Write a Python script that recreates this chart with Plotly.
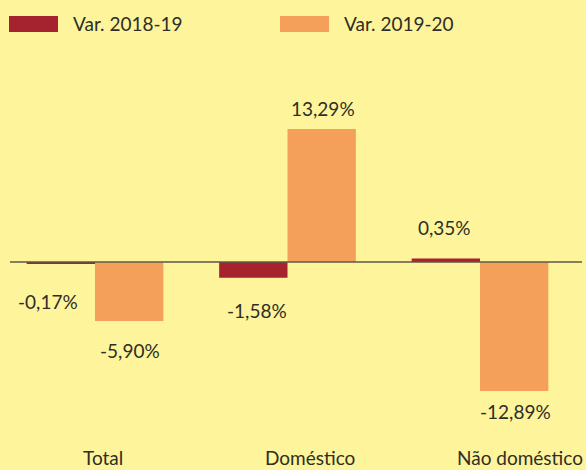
import plotly.graph_objects as go

# Consumption variation by sector (%)
categories = ["Total", "Doméstico", "Não doméstico"]
var_2018_19 = [-0.17, -1.58, 0.35]
var_2019_20 = [-5.90, 13.29, -12.89]
series_names = ["Var. 2018-19", "Var. 2019-20"]

RED = "#A4232E"
ORANGE = "#F5A05A"
BG = "#FEF49B"
TXT = "#2e2e26"
FONT = "Lato"
WEIGHT = 400

def pct(v):
    return f"{v:.2f}".replace(".", ",") + "%"

def tfont(size=19):
    return dict(family=FONT, size=size, color=TXT, weight=WEIGHT)

fig = go.Figure()
fig.add_trace(go.Bar(x=categories, y=var_2018_19, name=series_names[0],
                     marker=dict(color=RED, line=dict(width=0))))
fig.add_trace(go.Bar(x=categories, y=var_2019_20, name=series_names[1],
                     marker=dict(color=ORANGE, line=dict(width=0))))

annotations = []
# value labels: (xshift, yshift) per category
label_offsets_a = [(-47, -38), (-31, -33), (-36, 31)]
label_offsets_b = [(35, -29), (35, 21), (35, -21)]
for i, cat in enumerate(categories):
    for vals, offs in ((var_2018_19, label_offsets_a), (var_2019_20, label_offsets_b)):
        v = vals[i]
        dx, dy = offs[i]
        annotations.append(dict(x=cat, y=v, xref="x", yref="y", text=pct(v),
                                showarrow=False, xshift=dx, yshift=dy,
                                xanchor="center", yanchor="middle",
                                font=tfont()))

# category labels along the bottom
cat_shift = [8, 22, 40]
for cat, dx in zip(categories, cat_shift):
    annotations.append(dict(x=cat, y=13 / 470, xref="x", yref="paper", text=cat,
                            showarrow=False, xshift=dx, xanchor="center",
                            yanchor="middle", font=tfont()))

# legend
shapes = []
legend_items = [(9, 58, 71, RED, series_names[0]), (280, 329, 342, ORANGE, series_names[1])]
for x0, x1, tx, col, name in legend_items:
    shapes.append(dict(type="rect", xref="paper", yref="paper",
                       x0=x0 / 586, x1=x1 / 586, y0=1 - 32 / 470, y1=1 - 16 / 470,
                       fillcolor=col, line=dict(width=0)))
    annotations.append(dict(x=tx / 586, y=1 - 24 / 470, xref="paper", yref="paper",
                            text=name, showarrow=False, xanchor="left", yanchor="middle",
                            font=tfont()))

# zero baseline
shapes.append(dict(type="line", xref="paper", yref="y", x0=10 / 586, x1=582 / 586,
                   y0=0, y1=0, line=dict(color="#5c5a42", width=1.5)))

fig.update_layout(
    width=586, height=470,
    margin=dict(l=0, r=0, t=0, b=0),
    paper_bgcolor=BG, plot_bgcolor=BG,
    barmode="group", bargap=0.29, bargroupgap=0,
    showlegend=False,
    xaxis=dict(range=[-95 / 192.5, 2 + 106 / 192.5], showticklabels=False,
               showgrid=False, zeroline=False, showline=False, ticks=""),
    yaxis=dict(range=[-20.8, 26.2], showticklabels=False, showgrid=False,
               zeroline=False, showline=False, ticks=""),
    annotations=annotations,
    shapes=shapes,
)

fig.write_html("out.html")
